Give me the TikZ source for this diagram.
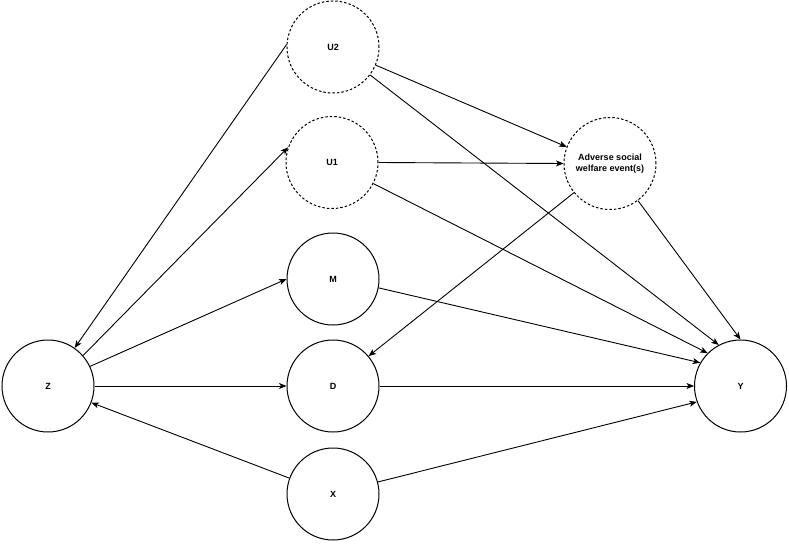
\documentclass[tikz,border=0pt]{standalone}
\usepackage{fontspec}
\setmainfont{Liberation Sans}
\usetikzlibrary{arrows.meta}
\begin{document}
\begin{tikzpicture}[x=1pt,y=-1pt,
  var/.style={circle,draw,line width=1pt,minimum size=92pt,inner sep=0pt,
    font=\bfseries\fontsize{9}{10.5}\selectfont,align=center},
  latent/.style={var,dash pattern=on 2.5pt off 2pt},
  edge/.style={line width=0.9pt,-{Stealth[length=7.5pt,width=6pt,inset=2pt]}}]
\path[fill=white] (0,0) rectangle (789,543);
\useasboundingbox (0,0) rectangle (789,543);
\node[latent] (U2) at (333,47) {U2};
\node[latent] (U1) at (332,162.5) {U1};
\node[var] (M) at (333,279) {M};
\node[var] (D) at (333,386) {D};
\node[var] (X) at (333,494) {X};
\node[var] (Z) at (48,386) {Z};
\node[var] (Y) at (740.5,386) {Y};
\node[latent] (A) at (610,163.5) {Adverse social\\welfare event(s)};
\draw[edge] (U2.177) -- (Z.55);
\draw[edge] (Z.41) -- (U1.161);
\draw[edge] (Z.25) -- (M.180);
\draw[edge] (Z.0) -- (D.180);
\draw[edge] (X.160) -- (Z.-21);
\draw[edge] (X.15) -- (Y.200);
\draw[edge] (D.0) -- (Y.180);
\draw[edge] (M.-11.5) -- (Y.150);
\draw[edge] (U1.-27) -- (Y.135);
\draw[edge] (U2.-37) -- (Y.118);
\draw[edge] (U2.-23) -- (A.159);
\draw[edge] (U1.0) -- (A.180);
\draw[edge] (A.219) -- (D.40);
\draw[edge] (A.-53.5) -- (Y.90);
\end{tikzpicture}
\end{document}
